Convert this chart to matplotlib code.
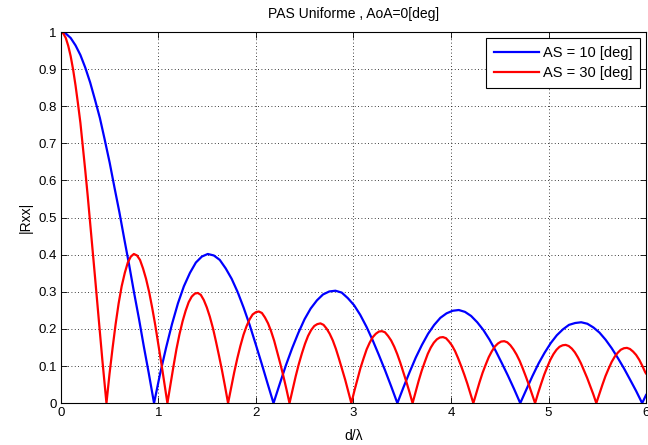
import matplotlib
matplotlib.use("Agg")
import matplotlib.pyplot as plt

# ---- data ----
blue_x = [0.0, 0.05, 0.1, 0.15, 0.2, 0.25, 0.3, 0.35, 0.4, 0.45, 0.5, 0.55, 0.6, 0.65,
          0.7, 0.75, 0.8, 0.85, 0.9, 0.955,
          1.016, 1.078, 1.139, 1.200, 1.261, 1.323, 1.384, 1.445, 1.506, 1.568,
          1.629, 1.690, 1.751, 1.813, 1.874, 1.935, 1.996, 2.058, 2.119, 2.180,
          2.244, 2.307, 2.371, 2.434, 2.498, 2.561, 2.625, 2.688, 2.752, 2.815,
          2.879, 2.942, 3.006, 3.069, 3.133, 3.196, 3.260, 3.323, 3.387, 3.450,
          3.513, 3.576, 3.639, 3.702, 3.765, 3.828, 3.891, 3.954, 4.017, 4.080,
          4.143, 4.206, 4.269, 4.332, 4.395, 4.458, 4.521, 4.584, 4.647, 4.710,
          4.773, 4.835, 4.898, 4.960, 5.023, 5.085, 5.148, 5.210, 5.273, 5.335,
          5.398, 5.460, 5.523, 5.585, 5.648, 5.710, 5.773, 5.835, 5.898, 5.960,
          6.0]
blue_y = [1.0, 0.996, 0.984, 0.964, 0.938, 0.904, 0.864, 0.817, 0.768, 0.709, 0.648, 0.580,
          0.514, 0.442, 0.372, 0.298, 0.228, 0.153, 0.082, 0.0,
          0.078, 0.149, 0.213, 0.269, 0.315, 0.351, 0.379, 0.395, 0.402, 0.398,
          0.386, 0.363, 0.335, 0.299, 0.257, 0.211, 0.160, 0.107, 0.053, 0.0,
          0.052, 0.102, 0.148, 0.189, 0.226, 0.255, 0.277, 0.293, 0.301, 0.303,
          0.298, 0.283, 0.264, 0.238, 0.206, 0.170, 0.130, 0.089, 0.045, 0.0,
          0.043, 0.084, 0.123, 0.157, 0.187, 0.211, 0.230, 0.242, 0.249, 0.251,
          0.246, 0.235, 0.218, 0.197, 0.171, 0.141, 0.108, 0.074, 0.038, 0.0,
          0.037, 0.073, 0.107, 0.136, 0.162, 0.183, 0.199, 0.211, 0.216, 0.218,
          0.214, 0.204, 0.190, 0.171, 0.148, 0.122, 0.094, 0.064, 0.033, 0.0,
          0.022]

red_x = [0.0, 0.025, 0.05, 0.075, 0.1, 0.125, 0.15, 0.175, 0.2, 0.225, 0.25, 0.275,
         0.3, 0.325, 0.35, 0.375, 0.4, 0.425, 0.45, 0.467,
         0.498, 0.530, 0.561, 0.592, 0.623, 0.655, 0.686, 0.717, 0.748, 0.780,
         0.811, 0.842, 0.873, 0.905, 0.936, 0.967, 0.998, 1.030, 1.061, 1.092,
         1.123, 1.154, 1.185, 1.216, 1.248, 1.279, 1.310, 1.341, 1.372, 1.403,
         1.434, 1.465, 1.496, 1.527, 1.559, 1.590, 1.621, 1.652, 1.683, 1.714,
         1.746, 1.777, 1.809, 1.840, 1.872, 1.903, 1.935, 1.966, 1.998, 2.029,
         2.061, 2.092, 2.124, 2.155, 2.187, 2.218, 2.250, 2.281, 2.313, 2.344,
         2.376, 2.407, 2.439, 2.471, 2.503, 2.534, 2.566, 2.598, 2.629, 2.661,
         2.693, 2.724, 2.756, 2.788, 2.820, 2.851, 2.883, 2.915, 2.946, 2.978,
         3.009, 3.041, 3.072, 3.104, 3.135, 3.166, 3.198, 3.229, 3.261, 3.292,
         3.323, 3.355, 3.386, 3.418, 3.449, 3.480, 3.512, 3.543, 3.575, 3.606,
         3.637, 3.668, 3.699, 3.731, 3.762, 3.793, 3.824, 3.855, 3.886, 3.918,
         3.949, 3.980, 4.011, 4.042, 4.073, 4.104, 4.136, 4.167, 4.198, 4.229,
         4.261, 4.292, 4.324, 4.356, 4.387, 4.419, 4.451, 4.482, 4.514, 4.546,
         4.577, 4.609, 4.640, 4.672, 4.704, 4.735, 4.767, 4.799, 4.830, 4.862,
         4.893, 4.925, 4.956, 4.988, 5.019, 5.050, 5.082, 5.113, 5.145, 5.176,
         5.207, 5.239, 5.270, 5.302, 5.333, 5.364, 5.396, 5.427, 5.459, 5.490,
         5.521, 5.553, 5.584, 5.616, 5.647, 5.678, 5.710, 5.741, 5.773, 5.804,
         5.835, 5.867, 5.898, 5.930, 5.961, 5.992, 6.0]
red_y = [1.0, 0.996, 0.984, 0.963, 0.935, 0.899, 0.856, 0.807, 0.755, 0.691, 0.626, 0.558,
         0.486, 0.413, 0.339, 0.264, 0.190, 0.116, 0.046, 0.0,
         0.078, 0.149, 0.213, 0.269, 0.315, 0.351, 0.379, 0.395, 0.402, 0.398,
         0.386, 0.363, 0.335, 0.299, 0.257, 0.211, 0.160, 0.107, 0.053, 0.0,
         0.050, 0.099, 0.146, 0.186, 0.221, 0.249, 0.272, 0.287, 0.295, 0.297,
         0.292, 0.278, 0.258, 0.233, 0.202, 0.166, 0.128, 0.088, 0.045, 0.0,
         0.042, 0.083, 0.121, 0.154, 0.184, 0.207, 0.226, 0.239, 0.245, 0.247,
         0.243, 0.231, 0.215, 0.194, 0.168, 0.138, 0.106, 0.073, 0.037, 0.0,
         0.037, 0.072, 0.105, 0.134, 0.160, 0.181, 0.197, 0.208, 0.213, 0.215,
         0.211, 0.201, 0.187, 0.169, 0.146, 0.120, 0.092, 0.063, 0.032, 0.0,
         0.033, 0.065, 0.095, 0.121, 0.145, 0.163, 0.178, 0.187, 0.193, 0.194,
         0.191, 0.181, 0.169, 0.152, 0.132, 0.109, 0.083, 0.057, 0.029, 0.0,
         0.030, 0.060, 0.087, 0.111, 0.133, 0.150, 0.163, 0.172, 0.177, 0.178,
         0.175, 0.166, 0.155, 0.140, 0.121, 0.100, 0.077, 0.053, 0.027, 0.0,
         0.028, 0.056, 0.082, 0.104, 0.124, 0.140, 0.153, 0.161, 0.166, 0.167,
         0.164, 0.156, 0.145, 0.131, 0.114, 0.094, 0.072, 0.049, 0.025, 0.0,
         0.027, 0.053, 0.077, 0.098, 0.117, 0.132, 0.144, 0.152, 0.156, 0.157,
         0.154, 0.147, 0.137, 0.123, 0.107, 0.088, 0.068, 0.046, 0.024, 0.0,
         0.025, 0.050, 0.073, 0.093, 0.111, 0.125, 0.136, 0.144, 0.148, 0.149,
         0.146, 0.139, 0.130, 0.117, 0.101, 0.083, 0.080]

series_labels = ["AS = 10 [deg]", "AS = 30 [deg]"]
x_ticks = [0, 1, 2, 3, 4, 5, 6]
y_ticks = [0, 0.1, 0.2, 0.3, 0.4, 0.5, 0.6, 0.7, 0.8, 0.9, 1]
y_tick_labels = ["0", "0.1", "0.2", "0.3", "0.4", "0.5", "0.6", "0.7", "0.8", "0.9", "1"]
title = "PAS Uniforme , AoA=0[deg]"
xlabel = "d/\u03bb"
ylabel = "|Rxx|"

plt.rcParams['font.family'] = ['Liberation Sans', 'DejaVu Sans']
fig = plt.figure(figsize=(6.48, 4.45), dpi=100)
ax = fig.add_axes([0.094, 0.094, 0.903, 0.834])

ax.plot(blue_x, blue_y, color='#0000ff', lw=1.6, label=series_labels[0])
ax.plot(red_x, red_y, color='#ff0000', lw=1.6, label=series_labels[1])

ax.set_xlim(0, 6)
ax.set_ylim(0, 1)
ax.set_xticks(x_ticks)
ax.set_xticklabels([str(t) for t in x_ticks])
ax.set_yticks(y_ticks)
ax.set_yticklabels(y_tick_labels)
ax.tick_params(direction='in', top=True, right=True, length=4, width=0.6,
               labelsize=9.5, colors='black', pad=3)
ax.grid(True, color='black', linestyle=(0, (1, 3)), linewidth=0.6)
for s in ax.spines.values():
    s.set_linewidth(0.8)

ax.set_title(title, fontsize=10, pad=10)
ax.set_xlabel(xlabel, fontsize=10, labelpad=7)
ax.set_ylabel(ylabel, fontsize=10, labelpad=4)

leg = ax.legend(loc='upper right', fontsize=10.5, fancybox=False, framealpha=1,
                edgecolor='black', handlelength=3.1, handletextpad=0.25,
                borderaxespad=0.4, borderpad=0.55, labelspacing=0.45)
leg.get_frame().set_linewidth(0.8)

fig.savefig("out.png", dpi=100)
